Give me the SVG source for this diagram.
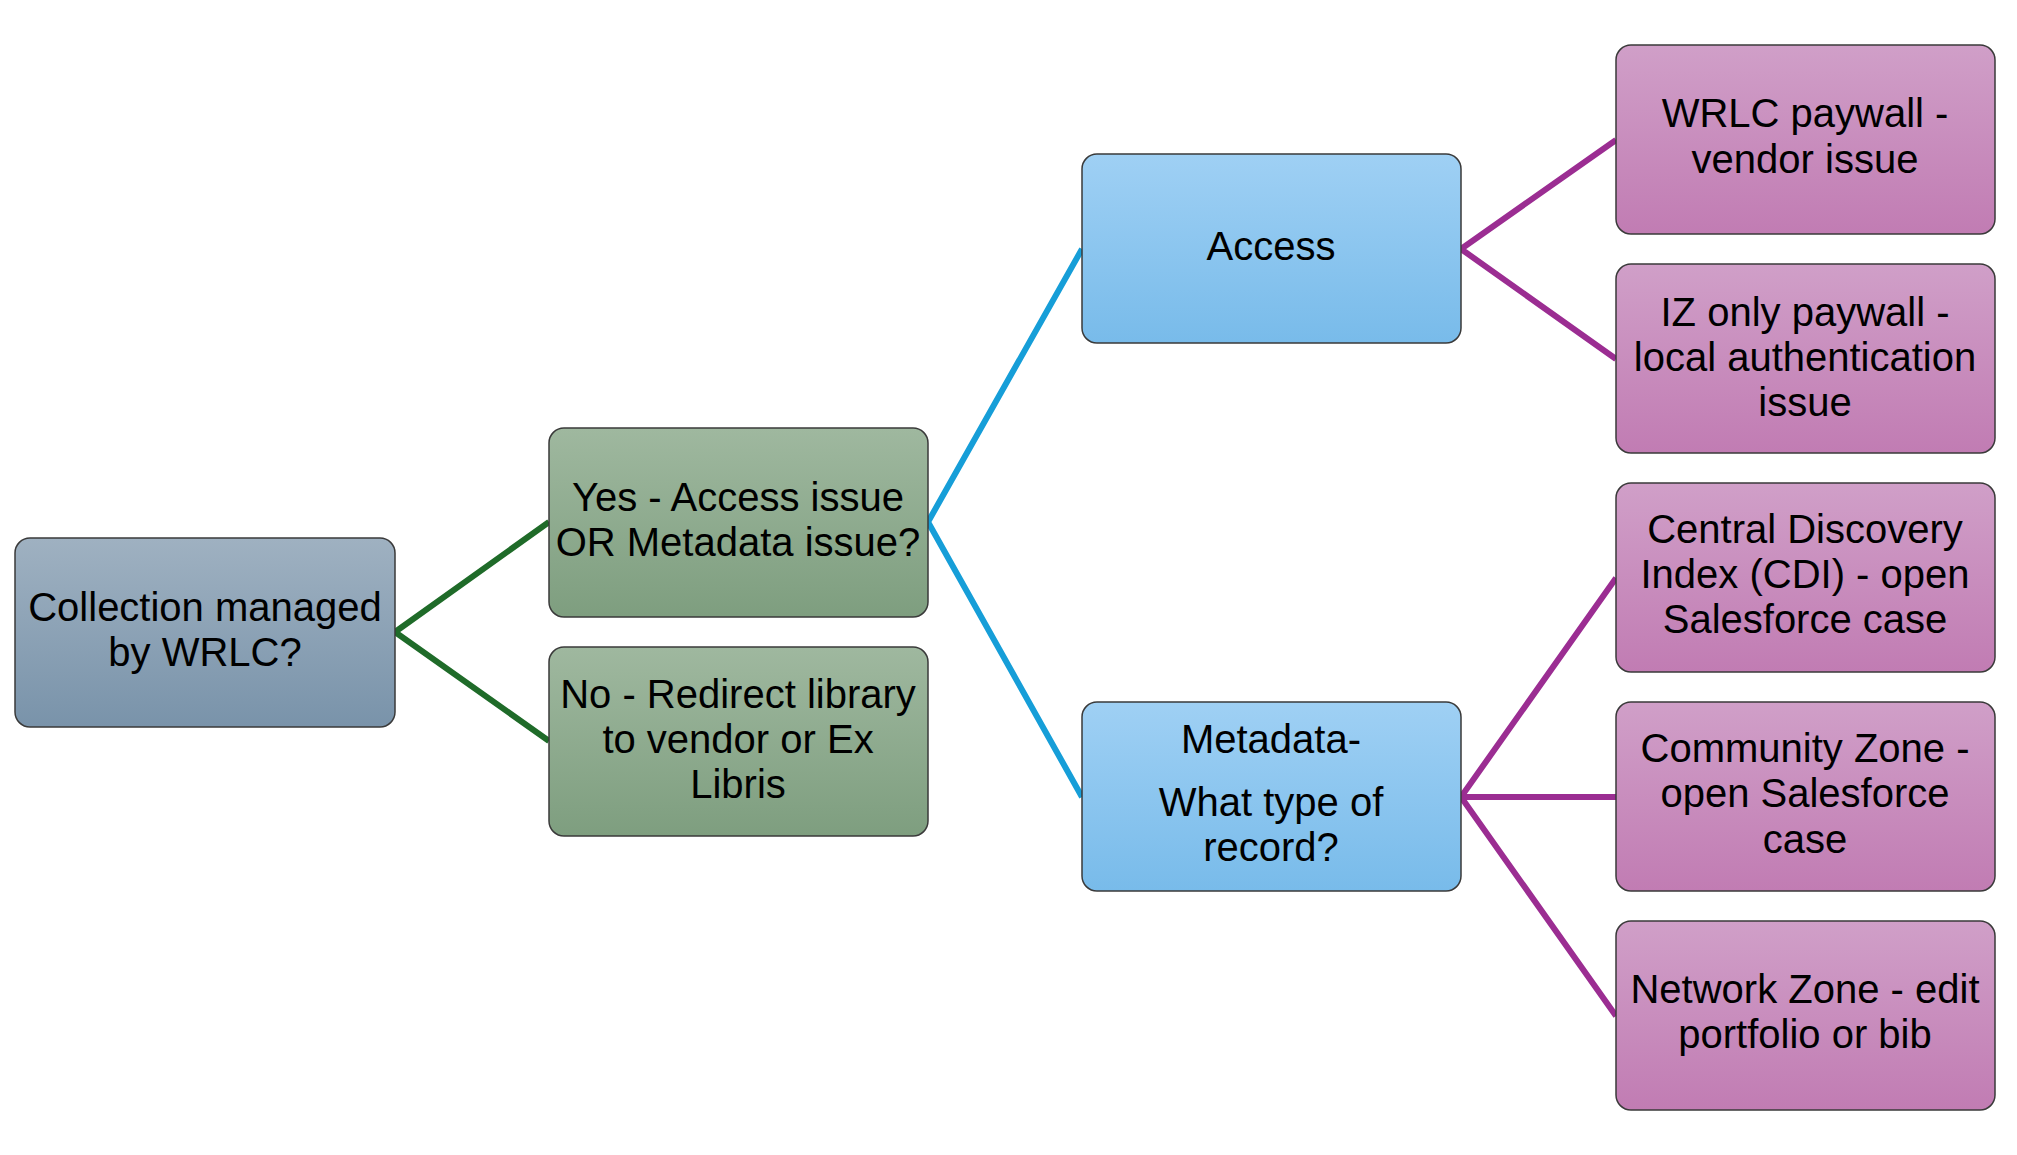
<svg xmlns="http://www.w3.org/2000/svg" width="2017" height="1155" viewBox="0 0 2017 1155">
<defs>
<linearGradient id="gGray" x1="0" y1="0" x2="0" y2="1"><stop offset="0" stop-color="#9fb1c1"/><stop offset="1" stop-color="#7993aa"/></linearGradient>
<linearGradient id="gGreen" x1="0" y1="0" x2="0" y2="1"><stop offset="0" stop-color="#9fb89f"/><stop offset="1" stop-color="#7e9e7f"/></linearGradient>
<linearGradient id="gBlue" x1="0" y1="0" x2="0" y2="1"><stop offset="0" stop-color="#9fd0f4"/><stop offset="1" stop-color="#78bbea"/></linearGradient>
<linearGradient id="gPurple" x1="0" y1="0" x2="0" y2="1"><stop offset="0" stop-color="#d09fc8"/><stop offset="1" stop-color="#c17cb3"/></linearGradient>
</defs>
<style>
.box{stroke:#3a3a3a;stroke-width:1.5}
.t{font-family:"Liberation Sans",Arial,sans-serif;font-size:40px;fill:#000;text-anchor:middle}
.cg{stroke:#1f6b29;stroke-width:6;fill:none}
.cb{stroke:#169ed8;stroke-width:6;fill:none}
.cp{stroke:#9b2d92;stroke-width:6;fill:none}
</style>
<rect width="2017" height="1155" fill="#fff"/>
<g id="connectors">
<path class="cg" d="M395,632 L549,522 M395,632 L549,741"/>
<path class="cb" d="M928,522 L1082,249 M928,522 L1082,797"/>
<path class="cp" d="M1461,249 L1616,140 M1461,249 L1616,359"/>
<path class="cp" d="M1461,797 L1616,578 M1461,797 L1616,797 M1461,797 L1616,1016"/>
</g>
<g id="n-collection">
<rect class="box" x="15" y="538" width="380" height="189" rx="15" fill="url(#gGray)"/>
<text class="t" x="205" y="621">Collection managed</text>
<text class="t" x="205" y="666">by WRLC?</text>
</g>
<g id="n-yes">
<rect class="box" x="549" y="428" width="379" height="189" rx="15" fill="url(#gGreen)"/>
<text class="t" x="738" y="511">Yes - Access issue</text>
<text class="t" x="738" y="556">OR Metadata issue?</text>
</g>
<g id="n-no">
<rect class="box" x="549" y="647" width="379" height="189" rx="15" fill="url(#gGreen)"/>
<text class="t" x="738" y="708">No - Redirect library</text>
<text class="t" x="738" y="753">to vendor or Ex</text>
<text class="t" x="738" y="798">Libris</text>
</g>
<g id="n-access">
<rect class="box" x="1082" y="154" width="379" height="189" rx="15" fill="url(#gBlue)"/>
<text class="t" x="1271" y="260">Access</text>
</g>
<g id="n-metadata">
<rect class="box" x="1082" y="702" width="379" height="189" rx="15" fill="url(#gBlue)"/>
<text class="t" x="1271" y="753">Metadata-</text>
<text class="t" x="1271" y="816">What type of</text>
<text class="t" x="1271" y="861">record?</text>
</g>
<g id="n-wrlc">
<rect class="box" x="1616" y="45" width="379" height="189" rx="15" fill="url(#gPurple)"/>
<text class="t" x="1805" y="127">WRLC paywall -</text>
<text class="t" x="1805" y="173">vendor issue</text>
</g>
<g id="n-iz">
<rect class="box" x="1616" y="264" width="379" height="189" rx="15" fill="url(#gPurple)"/>
<text class="t" x="1805" y="326">IZ only paywall -</text>
<text class="t" x="1805" y="371">local authentication</text>
<text class="t" x="1805" y="416">issue</text>
</g>
<g id="n-cdi">
<rect class="box" x="1616" y="483" width="379" height="189" rx="15" fill="url(#gPurple)"/>
<text class="t" x="1805" y="543">Central Discovery</text>
<text class="t" x="1805" y="588">Index (CDI) - open</text>
<text class="t" x="1805" y="633">Salesforce case</text>
</g>
<g id="n-community">
<rect class="box" x="1616" y="702" width="379" height="189" rx="15" fill="url(#gPurple)"/>
<text class="t" x="1805" y="762">Community Zone -</text>
<text class="t" x="1805" y="807">open Salesforce</text>
<text class="t" x="1805" y="853">case</text>
</g>
<g id="n-network">
<rect class="box" x="1616" y="921" width="379" height="189" rx="15" fill="url(#gPurple)"/>
<text class="t" x="1805" y="1003">Network Zone - edit</text>
<text class="t" x="1805" y="1048">portfolio or bib</text>
</g>
</svg>
